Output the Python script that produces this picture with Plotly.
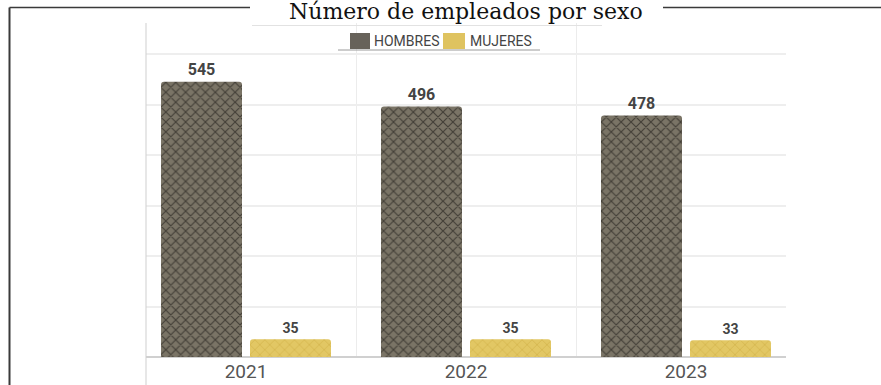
import plotly.graph_objects as go

# Employee headcount by sex and year
years = ["2021", "2022", "2023"]
hombres = [545, 496, 478]
mujeres = [35, 35, 33]
series_names = ["HOMBRES", "MUJERES"]

# Plot-area geometry in pixels (used to place frame decorations in paper units)
W, H = 881, 385
L, R, T, B = 146, 786, 23, 357

COL_H = "#67625a"
COL_M = "#dfc360"


def px_x(p):
    return (p - L) / (R - L)


def px_y(p):
    return (B - p) / (B - T)


fig = go.Figure()

fig.add_trace(go.Bar(
    name=series_names[0],
    x=years,
    y=hombres,
    text=[str(v) for v in hombres],
    textposition="outside",
    textfont=dict(family="Roboto", size=16, color="#444444", weight="bold"),
    cliponaxis=False,
    showlegend=False,
    marker=dict(
        color=COL_H,
        line=dict(width=0),
        cornerradius=3,
        pattern=dict(shape="x", bgcolor="#7a7466", fgcolor="#433f37",
                     size=7, solidity=0.3, fillmode="replace"),
    ),
))

fig.add_trace(go.Bar(
    name=series_names[1],
    x=years,
    y=mujeres,
    text=[str(v) for v in mujeres],
    textposition="outside",
    textfont=dict(family="Roboto", size=14, color="#444444", weight="bold"),
    cliponaxis=False,
    showlegend=False,
    marker=dict(
        color=COL_M,
        line=dict(width=0),
        cornerradius=3,
        pattern=dict(shape="x", bgcolor="#e2c764", fgcolor="#d3b44c",
                     size=7, solidity=0.2, fillmode="replace"),
    ),
))

ymax = (B - T) / 0.505  # 100 units ~ 50.5 px

shapes = [
    # frame: left rule and the two top segments around the title
    dict(type="line", xref="paper", yref="paper",
         x0=px_x(9.5), x1=px_x(9.5), y0=px_y(7.5), y1=px_y(400),
         line=dict(color="#3a3a3a", width=2)),
    dict(type="line", xref="paper", yref="paper",
         x0=px_x(9.5), x1=px_x(250), y0=px_y(7.5), y1=px_y(7.5),
         line=dict(color="#3a3a3a", width=1.5)),
    dict(type="line", xref="paper", yref="paper",
         x0=px_x(663), x1=px_x(900), y0=px_y(7.5), y1=px_y(7.5),
         line=dict(color="#3a3a3a", width=1.5)),
    # faint rule above the legend
    dict(type="line", xref="paper", yref="paper",
         x0=px_x(252), x1=px_x(602), y0=px_y(25.5), y1=px_y(25.5),
         line=dict(color="#e2e2e2", width=1)),
    # vertical rule at the left of the plot area
    dict(type="line", xref="paper", yref="paper",
         x0=0, x1=0, y0=px_y(400), y1=1,
         line=dict(color="#cfcfcf", width=1)),
    # thin rule under the legend
    dict(type="line", xref="paper", yref="paper",
         x0=px_x(338), x1=px_x(540), y0=px_y(50), y1=px_y(50),
         line=dict(color="#9a9a9a", width=1)),
    # legend swatches
    dict(type="rect", xref="paper", yref="paper",
         x0=px_x(350), x1=px_x(370), y0=px_y(49), y1=px_y(33),
         fillcolor=COL_H, line=dict(width=0)),
    dict(type="rect", xref="paper", yref="paper",
         x0=px_x(443), x1=px_x(465), y0=px_y(49), y1=px_y(33),
         fillcolor=COL_M, line=dict(width=0)),
]

annotations = [
    dict(
        text="Número de empleados por sexo",
        xref="paper", yref="paper",
        x=px_x(466), y=px_y(-3), xanchor="center", yanchor="top",
        showarrow=False,
        font=dict(family="DejaVu Serif", size=22, color="#111111"),
    ),
    dict(
        text=series_names[0],
        xref="paper", yref="paper",
        x=px_x(372), y=px_y(41.5), xanchor="left", yanchor="middle",
        showarrow=False,
        font=dict(family="Roboto", size=14, color="#444444"),
    ),
    dict(
        text=series_names[1],
        xref="paper", yref="paper",
        x=px_x(468), y=px_y(41.5), xanchor="left", yanchor="middle",
        showarrow=False,
        font=dict(family="Roboto", size=14, color="#444444"),
    ),
]

fig.update_layout(
    width=W,
    height=H,
    margin=dict(l=L, r=W - R, t=T, b=H - B, pad=0, autoexpand=False),
    paper_bgcolor="white",
    plot_bgcolor="white",
    barmode="group",
    bargap=0.191,
    bargroupgap=0.09,
    showlegend=False,
    font=dict(family="Roboto", color="#555555"),
    shapes=shapes,
    annotations=annotations,
    xaxis=dict(
        type="category",
        range=[-0.5 + 10 / 220, 2.5 - 10 / 220],
        tickson="boundaries",
        showgrid=True,
        gridcolor="#ececec",
        gridwidth=1,
        ticks="",
        showline=False,
        zeroline=False,
        automargin=False,
        tickfont=dict(family="Roboto", size=19, color="#555555"),
        ticklabelstandoff=1,
    ),
    yaxis=dict(
        range=[0, ymax],
        dtick=100,
        showgrid=True,
        gridcolor="#eeeeee",
        gridwidth=1.5,
        showticklabels=False,
        ticks="",
        zeroline=True,
        zerolinecolor="#d0d0d0",
        zerolinewidth=1.5,
        showline=False,
        automargin=False,
    ),
)

fig.write_html("out.html")
